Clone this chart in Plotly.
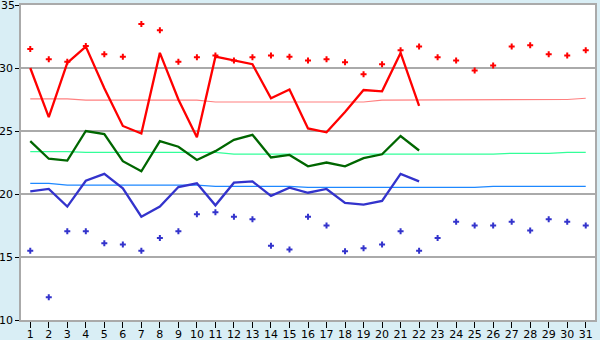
import plotly.graph_objects as go

days = list(range(1, 32))
days_obs = list(range(1, 23))
y_ticks = [10, 15, 20, 25, 30, 35]

max_line = [30.0, 26.1, 30.4, 31.7, 28.4, 25.4, 24.8, 31.2, 27.5, 24.5, 30.9,
            30.6, 30.3, 27.6, 28.3, 25.2, 24.9, 26.5, 28.25, 28.15, 31.2, 27.0]
mean_line = [24.2, 22.8, 22.65, 25.0, 24.75, 22.6, 21.8, 24.2, 23.75, 22.7, 23.4,
             24.3, 24.7, 22.9, 23.1, 22.2, 22.5, 22.2, 22.85, 23.15, 24.6, 23.45]
min_line = [20.2, 20.4, 19.0, 21.05, 21.6, 20.45, 18.2, 19.0, 20.55, 20.85, 19.1,
            20.9, 21.0, 19.85, 20.5, 20.1, 20.4, 19.3, 19.15, 19.45, 21.6, 21.0]

max_rec = [31.5, 30.7, 30.5, 31.75, 31.1, 30.9, 33.5, 33.0, 30.5, 30.85, 31.0,
           30.6, 30.85, 31.0, 30.9, 30.6, 30.7, 30.45, 29.5, 30.3, 31.4, 31.7,
           30.85, 30.6, 29.8, 30.2, 31.7, 31.8, 31.1, 31.0, 31.4]
min_rec = [15.5, 11.8, 17.05, 17.05, 16.1, 16.0, 15.5, 16.5, 17.05, 18.4, 18.55,
           18.2, 18.0, 15.9, 15.6, 18.2, 17.5, 15.45, 15.7, 16.0, 17.05, 15.5,
           16.5, 17.8, 17.5, 17.5, 17.8, 17.1, 18.0, 17.8, 17.5]

max_norm = [27.55]*3 + [27.45]*7 + [27.3]*9 + [27.45]*7 + [27.5]*4 + [27.6]
mean_norm = [23.37]*3 + [23.3]*8 + [23.17]*15 + [23.23]*3 + [23.3]*2
min_norm = [20.85]*2 + [20.7]*8 + [20.61]*5 + [20.53]*10 + [20.61]*6

fig = go.Figure()

fig.add_trace(go.Scatter(x=days, y=max_norm, mode="lines",
                         line=dict(color="#FF8080", width=1.2)))
fig.add_trace(go.Scatter(x=days, y=mean_norm, mode="lines",
                         line=dict(color="#33FF99", width=1.2)))
fig.add_trace(go.Scatter(x=days, y=min_norm, mode="lines",
                         line=dict(color="#1E88FF", width=1.2)))

fig.add_trace(go.Scatter(x=days_obs, y=max_line, mode="lines",
                         line=dict(color="#FF0000", width=2.3)))
fig.add_trace(go.Scatter(x=days_obs, y=mean_line, mode="lines",
                         line=dict(color="#006600", width=2.3)))
fig.add_trace(go.Scatter(x=days_obs, y=min_line, mode="lines",
                         line=dict(color="#3333CC", width=2.3)))

fig.add_trace(go.Scatter(x=days, y=max_rec, mode="markers",
                         marker=dict(symbol="cross", size=5, color="#FF0000",
                                     line=dict(width=0))))
fig.add_trace(go.Scatter(x=days, y=min_rec, mode="markers",
                         marker=dict(symbol="cross", size=5, color="#3333CC",
                                     line=dict(width=0))))

# top tick label drawn as an annotation (plotly hides it at the paper edge)
fig.add_annotation(x=0, xref="paper", y=y_ticks[-1], yref="y", text=str(y_ticks[-1]),
                   showarrow=False, xanchor="right", yanchor="middle", xshift=-4,
                   font=dict(family="DejaVu Sans", size=11, color="#000000"))

fig.update_layout(
    width=600, height=340,
    margin=dict(l=21, r=5, t=5, b=20, autoexpand=False),
    paper_bgcolor="#D9EEF5",
    plot_bgcolor="#FFFFFF",
    showlegend=False,
    font=dict(family="DejaVu Sans", size=11, color="#000000"),
    xaxis=dict(range=[0.5, 31.5], tickmode="array", tickvals=days,
               ticktext=[str(d) for d in days], showgrid=False, zeroline=False,
               showline=True, linecolor="#AAAAAA", linewidth=1.5, mirror=True,
               ticks="outside", ticklen=6, tickcolor="#000000", tickwidth=1,
               ticklabelstandoff=-3, automargin=False),
    yaxis=dict(range=[10, 35], tickmode="array", tickvals=y_ticks,
               ticktext=[str(v) for v in y_ticks[:-1]] + [""],
               showgrid=True, gridcolor="#AAAAAA", gridwidth=1.5, zeroline=False,
               showline=True, linecolor="#AAAAAA", linewidth=1.5, mirror=True,
               ticks="outside", ticklen=4, tickcolor="#000000", tickwidth=1,
               automargin=False),
)

fig.write_html("out.html")
